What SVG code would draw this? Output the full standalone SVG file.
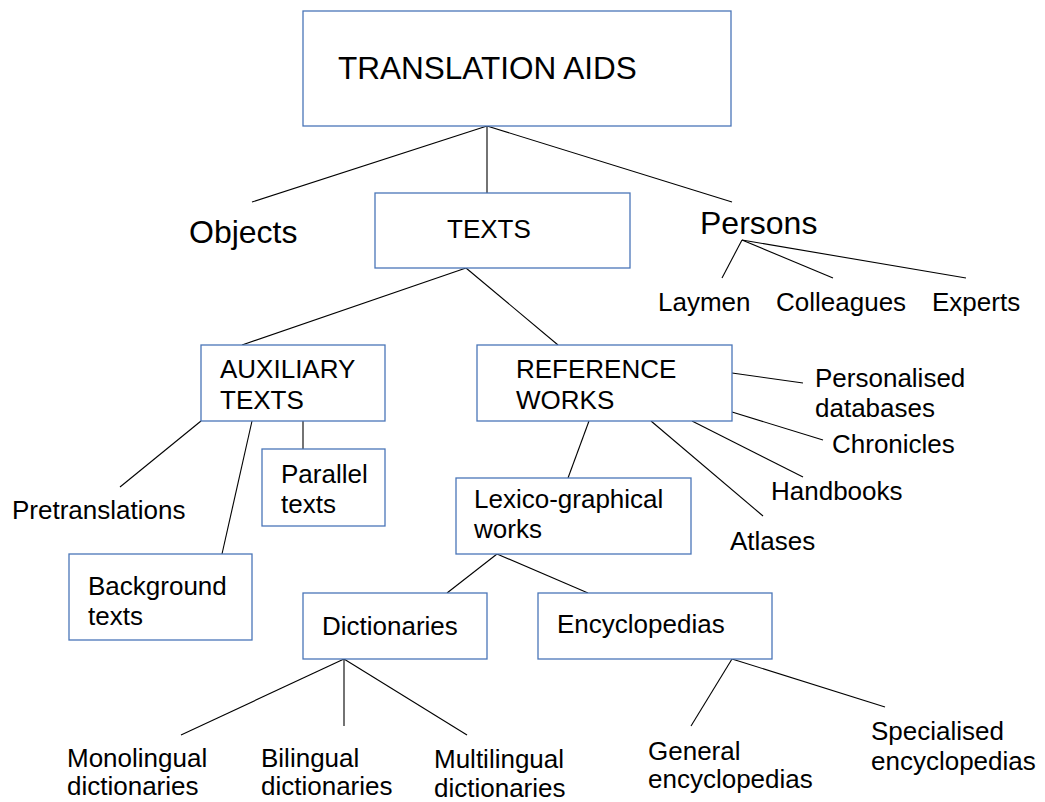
<svg xmlns="http://www.w3.org/2000/svg" width="1045" height="802" viewBox="0 0 1045 802">
<style>
.box{fill:#fff;stroke:#4a76b8;stroke-width:1.3}
.t{font-family:"Liberation Sans",Arial,sans-serif;font-size:26px;fill:#000}
.big{font-size:32px}
#connectors line{stroke:#000;stroke-width:1.1}
</style>
<rect width="1045" height="802" fill="#fff"/>
<g id="connectors">
<line x1="487" y1="126" x2="252" y2="202"/>
<line x1="487" y1="126" x2="487" y2="193"/>
<line x1="487" y1="126" x2="732" y2="202"/>
<line x1="742" y1="240" x2="722" y2="278"/>
<line x1="742" y1="240" x2="833" y2="278"/>
<line x1="742" y1="240" x2="966" y2="278"/>
<line x1="466" y1="268" x2="242" y2="345"/>
<line x1="466" y1="268" x2="558" y2="345"/>
<line x1="201" y1="421" x2="120" y2="487"/>
<line x1="252" y1="421" x2="222" y2="554"/>
<line x1="303" y1="421" x2="303" y2="449"/>
<line x1="589" y1="421" x2="568" y2="478"/>
<line x1="651" y1="421" x2="763" y2="516"/>
<line x1="692" y1="421" x2="803" y2="477"/>
<line x1="732" y1="412" x2="823" y2="440"/>
<line x1="732" y1="373" x2="803" y2="383"/>
<line x1="497" y1="554" x2="447" y2="593"/>
<line x1="497" y1="554" x2="588" y2="593"/>
<line x1="344" y1="659" x2="181" y2="735"/>
<line x1="344" y1="659" x2="344" y2="726"/>
<line x1="344" y1="659" x2="467" y2="735"/>
<line x1="732" y1="659" x2="691" y2="726"/>
<line x1="732" y1="659" x2="885" y2="707"/>
</g>
<g id="translation-aids"><rect class="box" x="303" y="11" width="428" height="115"/><text class="t" x="338" y="79" font-size="31.5" style="font-size:31.5px">TRANSLATION AIDS</text></g>
<g id="objects"><text class="t big" x="189" y="243">Objects</text></g>
<g id="texts"><rect class="box" x="375" y="193" width="255" height="75"/><text class="t" x="447" y="238">TEXTS</text></g>
<g id="persons"><text class="t big" x="700" y="234">Persons</text></g>
<g id="laymen"><text class="t" x="658" y="311">Laymen</text></g>
<g id="colleagues"><text class="t" x="776" y="311">Colleagues</text></g>
<g id="experts"><text class="t" x="932" y="311">Experts</text></g>
<g id="auxiliary-texts"><rect class="box" x="201" y="345" width="184" height="76"/><text class="t" x="220" y="378">AUXILIARY</text><text class="t" x="220" y="409">TEXTS</text></g>
<g id="reference-works"><rect class="box" x="477" y="345" width="255" height="76"/><text class="t" x="516" y="378">REFERENCE</text><text class="t" x="516" y="409">WORKS</text></g>
<g id="personalised"><text class="t" x="815" y="387">Personalised</text><text class="t" x="815" y="417">databases</text></g>
<g id="chronicles"><text class="t" x="832" y="453">Chronicles</text></g>
<g id="handbooks"><text class="t" x="771" y="500">Handbooks</text></g>
<g id="atlases"><text class="t" x="730" y="550">Atlases</text></g>
<g id="pretranslations"><text class="t" x="12" y="519">Pretranslations</text></g>
<g id="parallel-texts"><rect class="box" x="262" y="449" width="123" height="77"/><text class="t" x="281" y="483">Parallel</text><text class="t" x="281" y="513">texts</text></g>
<g id="background-texts"><rect class="box" x="69" y="554" width="183" height="86"/><text class="t" x="88" y="595">Background</text><text class="t" x="88" y="625">texts</text></g>
<g id="lexico"><rect class="box" x="456" y="478" width="235" height="76"/><text class="t" x="474" y="508">Lexico-graphical</text><text class="t" x="474" y="538">works</text></g>
<g id="dictionaries"><rect class="box" x="303" y="593" width="184" height="66"/><text class="t" x="322" y="635">Dictionaries</text></g>
<g id="encyclopedias"><rect class="box" x="538" y="593" width="234" height="66"/><text class="t" x="557" y="633">Encyclopedias</text></g>
<g id="monolingual"><text class="t" x="67" y="767">Monolingual</text><text class="t" x="67" y="795">dictionaries</text></g>
<g id="bilingual"><text class="t" x="261" y="767">Bilingual</text><text class="t" x="261" y="795">dictionaries</text></g>
<g id="multilingual"><text class="t" x="434" y="768">Multilingual</text><text class="t" x="434" y="797">dictionaries</text></g>
<g id="general"><text class="t" x="648" y="760">General</text><text class="t" x="648" y="788">encyclopedias</text></g>
<g id="specialised"><text class="t" x="871" y="740">Specialised</text><text class="t" x="871" y="770">encyclopedias</text></g>
</svg>
